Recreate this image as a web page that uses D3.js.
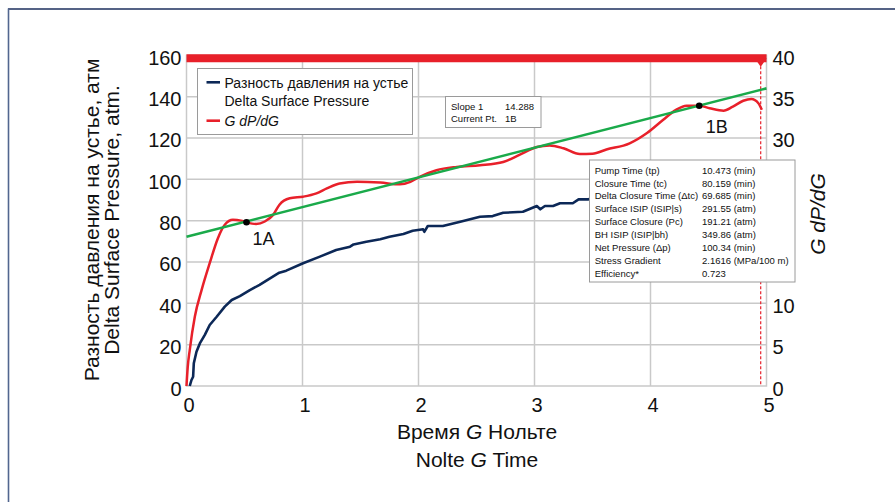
<!DOCTYPE html>
<html><head><meta charset="utf-8">
<script src="https://cdn.jsdelivr.net/npm/d3@7"></script>
<style>body{margin:0;background:#fff}svg{display:block}text{font-family:"Liberation Sans",Arial,sans-serif;fill:#111}</style>
</head><body>
<svg id="c" width="895" height="502"></svg>
<script>
// ---------- data ----------
const xTicks = [0, 1, 2, 3, 4, 5];
const yLeftTicks = [0, 20, 40, 60, 80, 100, 120, 140, 160];
const yRightTicks = [0, 5, 10, 15, 20, 25, 30, 35, 40];
// right-axis ticks whose labels are covered by the results box in the reference
const yRightHidden = [15, 20, 25];

// Delta Surface Pressure (left axis, atm)
const pressureG = [0.028,0.043,0.057,0.063,0.086,0.115,0.158,0.2,0.26,0.33,0.39,0.46,0.546,0.63,0.72,0.80,0.86,1.005,1.15,1.29,1.41,1.44,1.55,1.67,1.75,1.87,1.95,2.04,2.05,2.08,2.21,2.36,2.53,2.64,2.73,2.90,3.02,3.05,3.09,3.16,3.22,3.33,3.38,3.46,3.7,4.0,4.3,4.6,4.9];
const pressureVal = [0,2.9,4.5,11,16.6,20.6,24.7,29.5,33.5,38.4,41.6,43.5,46.4,48.9,52.1,54.8,55.8,59.4,62.6,65.8,67.4,68.5,69.8,71,72.2,73.5,75.1,75.8,74.6,77.4,77.4,79.5,81.9,82.2,83.8,84.3,87.1,85.5,87.1,87.1,88.4,88.4,90.3,90.3,92,94,96,98,100];

// G dP/dG (right axis)
const derivG = [0,0.01,0.028,0.072,0.13,0.2,0.27,0.33,0.40,0.47,0.517,0.60,0.675,0.747,0.80,0.89,1.005,1.12,1.21,1.32,1.47,1.67,1.84,1.93,2.01,2.155,2.33,2.53,2.73,2.87,3.02,3.13,3.25,3.39,3.50,3.62,3.82,3.97,4.11,4.22,4.31,4.42,4.51,4.63,4.71,4.80,4.87,4.93,4.96];
const derivVal = [0,2.2,4.35,8.4,11.6,14.85,17.85,19.5,20.1,20.0,19.8,19.6,19.9,20.7,21.9,22.7,22.9,23.3,23.9,24.5,24.7,24.6,24.4,24.7,25.3,26.1,26.5,26.7,27.1,27.95,28.9,29.1,28.75,28.05,28.1,28.6,29.35,30.6,32.2,33.4,33.9,33.9,33.6,33.3,33.8,34.5,34.7,34.2,33.4];

// Slope line (left axis)
const slopeG = [0, 5];
const slopeVal = [72.2, 144.0];

// Picked points (right axis)
const pointLabels = ["1A", "1B"];
const pointG = [0.517, 4.42];
const pointVal = [19.8, 33.9];

// Closure marker
const closureG = 4.95;

const legendLabels = [["Разность давления на устье", "Delta Surface Pressure"], ["G dP/dG"]];
const slopeLabels = ["Slope 1", "Current Pt."];
const slopeValues = ["14.288", "1B"];
const infoLabels = ["Pump Time (tp)", "Closure Time (tc)", "Delta Closure Time (Δtc)", "Surface ISIP (ISIP|s)", "Surface Closure (Pc)", "BH ISIP (ISIP|bh)", "Net Pressure (Δp)", "Stress Gradient", "Efficiency*"];
const infoValues = ["10.473 (min)", "80.159 (min)", "69.685 (min)", "291.55 (atm)", "191.21 (atm)", "349.86 (atm)", "100.34 (min)", "2.1616 (MPa/100 m)", "0.723"];

// ---------- chart ----------
const svg = d3.select("#c");
const x = d3.scaleLinear([0, 5], [186.5, 766.5]);
const yL = d3.scaleLinear([0, 160], [386, 55.3]);
const yR = d3.scaleLinear([0, 40], [386, 55.3]);

const RED = "#e8202a", BLUE = "#0c2857", GREEN = "#1aaa4a", GRID = "#c9c9c9";

// outer frame
svg.append("line").attr("x1", 8).attr("x2", 895).attr("y1", 9).attr("y2", 9).attr("stroke", "#1c2f5e").attr("stroke-width", 1.6);
svg.append("line").attr("x1", 8.5).attr("x2", 8.5).attr("y1", 8.5).attr("y2", 502).attr("stroke", "#52668f").attr("stroke-width", 1.6);

// grid
const g = svg.append("g");
g.selectAll(".vg").data(xTicks.slice(1, -1)).join("line")
  .attr("x1", d => x(d)).attr("x2", d => x(d)).attr("y1", yL(160)).attr("y2", yL(0))
  .attr("stroke", GRID).attr("stroke-width", 1.5);
g.selectAll(".hg").data(yLeftTicks.slice(1, -1)).join("line")
  .attr("x1", x(0)).attr("x2", x(5)).attr("y1", d => yL(d)).attr("y2", d => yL(d))
  .attr("stroke", GRID).attr("stroke-width", 1.5);
g.append("rect").attr("x", x(0)).attr("y", yL(160)).attr("width", x(5) - x(0)).attr("height", yL(0) - yL(160))
  .attr("fill", "none").attr("stroke", GRID).attr("stroke-width", 1.5);

// axes
const axL = svg.append("g").attr("transform", `translate(${x(0)},0)`)
  .call(d3.axisLeft(yL).tickValues(yLeftTicks).tickSize(0).tickPadding(5));
const axB = svg.append("g").attr("transform", `translate(0,${yL(0)})`)
  .call(d3.axisBottom(x).tickValues(xTicks).tickSize(0).tickPadding(12).tickFormat(d3.format("d")));
const axR = svg.append("g").attr("transform", `translate(${x(5)},0)`)
  .call(d3.axisRight(yR).tickValues(yRightTicks.filter(v => !yRightHidden.includes(v))).tickSize(0).tickPadding(6));
[axL, axB, axR].forEach(a => {
  a.select(".domain").remove();
  a.selectAll("text").attr("font-size", 20).attr("font-family", '"Liberation Sans", Arial, sans-serif').attr("fill", "#111");
});
axL.selectAll("text").attr("dy", "0.45em");
axR.selectAll("text").attr("dy", "0.45em");
axB.selectAll("text").attr("dx", 2);

// axis titles
const lt = svg.append("g");
lt.append("text").attr("transform", `translate(99,220) rotate(-90)`).attr("text-anchor", "middle").attr("font-size", 21)
  .text("Разность давления на устье, атм");
lt.append("text").attr("transform", `translate(119,220) rotate(-90)`).attr("text-anchor", "middle").attr("font-size", 21)
  .text("Delta Surface Pressure, atm.");
const bt1 = svg.append("text").attr("x", 477).attr("y", 439).attr("text-anchor", "middle").attr("font-size", 21);
bt1.append("tspan").text("Время ");
bt1.append("tspan").attr("font-style", "italic").text("G");
bt1.append("tspan").text(" Нольте");
const bt2 = svg.append("text").attr("x", 477).attr("y", 467).attr("text-anchor", "middle").attr("font-size", 21);
bt2.append("tspan").text("Nolte ");
bt2.append("tspan").attr("font-style", "italic").text("G");
bt2.append("tspan").text(" Time");
svg.append("text").attr("transform", `translate(825,214) rotate(-90)`).attr("text-anchor", "middle")
  .attr("font-size", 21).attr("font-style", "italic").text("G dP/dG");

// closure marker
svg.append("line").attr("x1", x(closureG)).attr("x2", x(closureG)).attr("y1", yL(160) + 11).attr("y2", yL(0))
  .attr("stroke", RED).attr("stroke-width", 1.2).attr("stroke-dasharray", "3,2");

// series
const pressure = pressureG.map((d, i) => [d, pressureVal[i]]);
svg.append("path").datum(pressure)
  .attr("d", d3.line().x(d => x(d[0])).y(d => yL(d[1])))
  .attr("fill", "none").attr("stroke", BLUE).attr("stroke-width", 2.6).attr("stroke-linejoin", "round");

const deriv = derivG.map((d, i) => [d, derivVal[i]]);
svg.append("path").datum(deriv)
  .attr("d", d3.line().x(d => x(d[0])).y(d => yR(d[1])).curve(d3.curveMonotoneX))
  .attr("fill", "none").attr("stroke", RED).attr("stroke-width", 2.5);

const slope = slopeG.map((d, i) => [d, slopeVal[i]]);
svg.append("path").datum(slope)
  .attr("d", d3.line().x(d => x(d[0])).y(d => yL(d[1])))
  .attr("fill", "none").attr("stroke", GREEN).attr("stroke-width", 2.6);

// top red bar + marker
svg.append("line").attr("x1", x(0)).attr("x2", x(5)).attr("y1", yL(160) + 3).attr("y2", yL(160) + 3)
  .attr("stroke", RED).attr("stroke-width", 8);
const mx = x(closureG), my = yL(160);
svg.append("path").attr("d", `M${mx - 6},${my + 3} L${mx + 6},${my + 3} L${mx},${my + 11.5} Z`).attr("fill", RED);

// points
pointG.forEach((d, i) => {
  svg.append("circle").attr("cx", x(d)).attr("cy", yR(pointVal[i])).attr("r", 3.3).attr("fill", "#000");
});
svg.append("text").attr("x", x(pointG[0]) + 6).attr("y", yR(pointVal[0]) + 22.5).attr("font-size", 18).text(pointLabels[0]);
svg.append("text").attr("x", x(pointG[1]) + 6.5).attr("y", yR(pointVal[1]) + 27.5).attr("font-size", 18).text(pointLabels[1]);

// legend
const lg = svg.append("g");
lg.append("rect").attr("x", 197.5).attr("y", 68.5).attr("width", 215).attr("height", 66).attr("fill", "#fff").attr("stroke", "#9a9a9a").attr("stroke-width", 1);
lg.append("line").attr("x1", 206.5).attr("x2", 220).attr("y1", 82.3).attr("y2", 82.3).attr("stroke", BLUE).attr("stroke-width", 2.6);
lg.append("line").attr("x1", 206.5).attr("x2", 220).attr("y1", 120.7).attr("y2", 120.7).attr("stroke", RED).attr("stroke-width", 2.6);
lg.append("text").attr("x", 224.5).attr("y", 87.5).attr("font-size", 14).text(legendLabels[0][0]);
lg.append("text").attr("x", 224.5).attr("y", 106).attr("font-size", 14).text(legendLabels[0][1]);
lg.append("text").attr("x", 224.5).attr("y", 126).attr("font-size", 14).attr("font-style", "italic").text(legendLabels[1][0]);

// slope box
const sb = svg.append("g");
sb.append("rect").attr("x", 445.5).attr("y", 96.5).attr("width", 95.5).attr("height", 31).attr("fill", "#fff").attr("stroke", "#9a9a9a");
slopeLabels.forEach((t, i) => {
  sb.append("text").attr("x", 451).attr("y", 110.3 + i * 12).attr("font-size", 9.5).text(t);
  sb.append("text").attr("x", 505).attr("y", 110.3 + i * 12).attr("font-size", 9.5).text(slopeValues[i]);
});

// info box
const ib = svg.append("g");
ib.append("rect").attr("x", 589.5).attr("y", 160).attr("width", 205.5).attr("height", 122).attr("fill", "#fff").attr("stroke", "#9a9a9a");
infoLabels.forEach((t, i) => {
  ib.append("text").attr("x", 594.7).attr("y", 173.6 + i * 12.9).attr("font-size", 9.5).text(t);
  ib.append("text").attr("x", 702).attr("y", 173.6 + i * 12.9).attr("font-size", 9.5).text(infoValues[i]);
});
</script>
</body></html>
